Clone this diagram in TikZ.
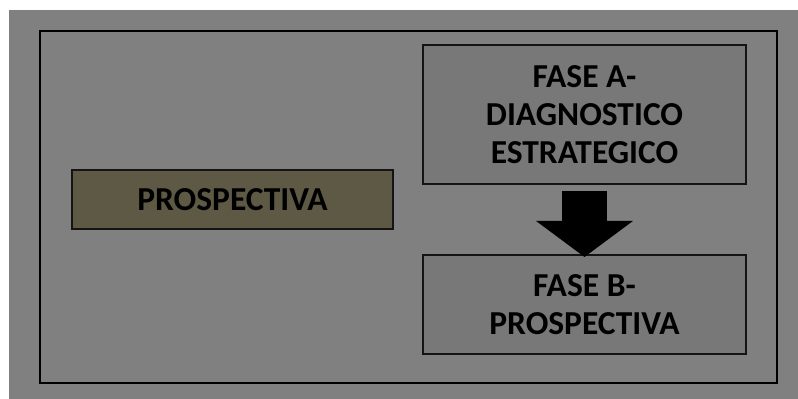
\documentclass[tikz,border=0pt]{standalone}
\usepackage{fontspec}
\setmainfont{Carlito}
\usepackage{tikz}
\usetikzlibrary{arrows.meta,calc}

\definecolor{bggray}{HTML}{808080}
\definecolor{boxgray}{HTML}{787878}
\definecolor{olivebox}{HTML}{5D5945}
\definecolor{edgedark}{HTML}{141414}

\begin{document}
\begin{tikzpicture}[x=1pt, y=1pt,
	every node/.style={font=\fontsize{33.5}{38}\selectfont\bfseries, align=center, inner sep=0pt, outer sep=0pt},
	phase/.style={draw=edgedark, line width=2pt, fill=boxgray, minimum width=323pt},
	]
	\fill[white] (0,0) rectangle (798,399);
	\fill[bggray] (9,0) rectangle (798,389);
	\draw[black, line width=2pt] (40,16) rectangle (777,368);

	\node[draw=edgedark, line width=2pt, fill=olivebox, minimum width=321pt, minimum height=59pt] (prosp) at (232.5,199.5) {PROSPECTIVA};
	\node[phase, minimum height=139pt] (faseA) at (584.5,284.5) {FASE A-\\DIAGNOSTICO\\ESTRATEGICO};
	\node[phase, minimum height=99pt] (faseB) at (584.5,94.5) {FASE B-\\PROSPECTIVA};

	\draw[black, line width=45pt, -{Triangle[width=95pt, length=36pt]}] ($(faseA.south)+(0,-7)$) -- ($(faseB.north)+(0,-2)$);
\end{tikzpicture}
\end{document}
